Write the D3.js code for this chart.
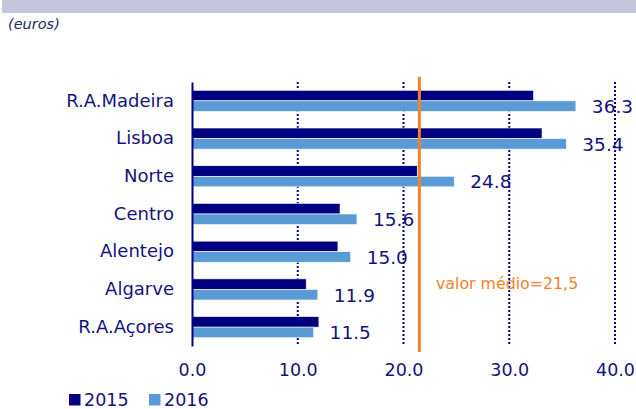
<!DOCTYPE html>
<html>

<head>
    <title>euros por região</title>
    <script type="text/javascript" src="https://cdn.jsdelivr.net/npm/d3@7/dist/d3.min.js"></script>
    <style type="text/css">
        body { margin: 0; background: #fff; }
        text { font-family: "DejaVu Sans", Verdana, sans-serif; }
    </style>
</head>

<body>
    <svg width="636" height="409"></svg>
</body>

<script type="text/javascript">
    let regions = ["R.A.Madeira", "Lisboa", "Norte", "Centro", "Alentejo", "Algarve", "R.A.Açores"];
    let years = ["2015", "2016"];
    let values2015 = [32.3, 33.1, 21.3, 14.0, 13.8, 10.8, 12.0];
    let values2016 = [36.3, 35.4, 24.8, 15.6, 15.0, 11.9, 11.5];
    let xTicks = [0, 10, 20, 30, 40];
    let average = 21.5;
    let averageLabel = "valor médio=21,5";

    let navy = "#000080", light = "#5b9bd5", textCol = "#13137a", orange = "#f5822a";
    let colors = { "2015": navy, "2016": light };

    let svg = d3.select("svg");

    // header band + unit
    svg.append("rect").attr("x", 2).attr("y", 0).attr("width", 634).attr("height", 13)
        .attr("fill", "#c5c6dc");
    svg.append("text").attr("x", 8).attr("y", 29).attr("font-size", "14.5px")
        .attr("font-style", "italic").attr("fill", "#1f2a60").text("(euros)");

    let x = d3.scaleLinear().domain([0, 40]).range([192, 615]);
    let y = d3.scaleBand().domain(regions).range([82, 346]).paddingInner(0.44).paddingOuter(0.22);
    let ySub = d3.scaleBand().domain(years).range([0, y.bandwidth()]);

    let rows = regions.map(function(r, i) {
        return { region: r, "2015": values2015[i], "2016": values2016[i] };
    });

    // dotted gridlines
    svg.append("g").selectAll("line").data(xTicks.slice(1)).enter().append("line")
        .attr("x1", function(d) { return x(d); })
        .attr("x2", function(d) { return x(d); })
        .attr("y1", 82).attr("y2", 346)
        .attr("stroke", navy).attr("stroke-width", 2).attr("stroke-dasharray", "2,2");

    // bars
    let groups = svg.append("g").selectAll("g").data(rows).enter().append("g")
        .attr("transform", function(d) { return "translate(0," + y(d.region) + ")"; });
    groups.selectAll("rect").data(function(d) {
        return years.map(function(k) { return { key: k, value: d[k] }; });
    }).enter().append("rect")
        .attr("x", x(0))
        .attr("y", function(d) { return ySub(d.key); })
        .attr("width", function(d) { return x(d.value) - x(0); })
        .attr("height", ySub.bandwidth())
        .attr("fill", function(d) { return colors[d.key]; })
        .attr("stroke", "#fff").attr("stroke-width", 0.6);

    // 2016 value labels
    groups.append("text")
        .attr("x", function(d) { return x(d["2016"]) + 16; })
        .attr("y", ySub("2016") + ySub.bandwidth() / 2)
        .attr("dy", "0.37em")
        .attr("font-size", "18.5px").attr("fill", textCol)
        .text(function(d) { return d["2016"].toFixed(1); });

    // average line
    svg.append("line").attr("x1", x(average)).attr("x2", x(average))
        .attr("y1", 77).attr("y2", 352)
        .attr("stroke", orange).attr("stroke-width", 3);
    svg.append("text").attr("x", 436).attr("y", 289).attr("font-size", "15.8px")
        .attr("fill", orange).text(averageLabel);

    // y axis
    let yAxis = svg.append("g").attr("transform", "translate(" + x(0) + ",0)")
        .call(d3.axisLeft(y).tickSize(0).tickPadding(18));
    yAxis.select(".domain").attr("stroke", navy).attr("stroke-width", 2);
    yAxis.selectAll("text").attr("font-size", "18px").attr("fill", textCol)
        .attr("font-family", "DejaVu Sans, Verdana, sans-serif");

    // x axis (labels only)
    let xAxis = svg.append("g").attr("transform", "translate(0,346)")
        .call(d3.axisBottom(x).tickValues(xTicks).tickFormat(d3.format(".1f")).tickSize(0).tickPadding(18));
    xAxis.select(".domain").remove();
    xAxis.selectAll("text").attr("font-size", "17.5px").attr("fill", textCol)
        .attr("font-family", "DejaVu Sans, Verdana, sans-serif");

    // legend
    let legend = svg.append("g").selectAll("g").data(years).enter().append("g")
        .attr("transform", function(d, i) { return "translate(" + (69 + i * 80) + ",394)"; });
    legend.append("rect").attr("width", 11.5).attr("height", 11.5)
        .attr("fill", function(d) { return colors[d]; });
    legend.append("text").attr("x", 15).attr("y", 11.5).attr("font-size", "17.5px")
        .attr("fill", textCol).text(function(d) { return d; });
</script>

</html>
